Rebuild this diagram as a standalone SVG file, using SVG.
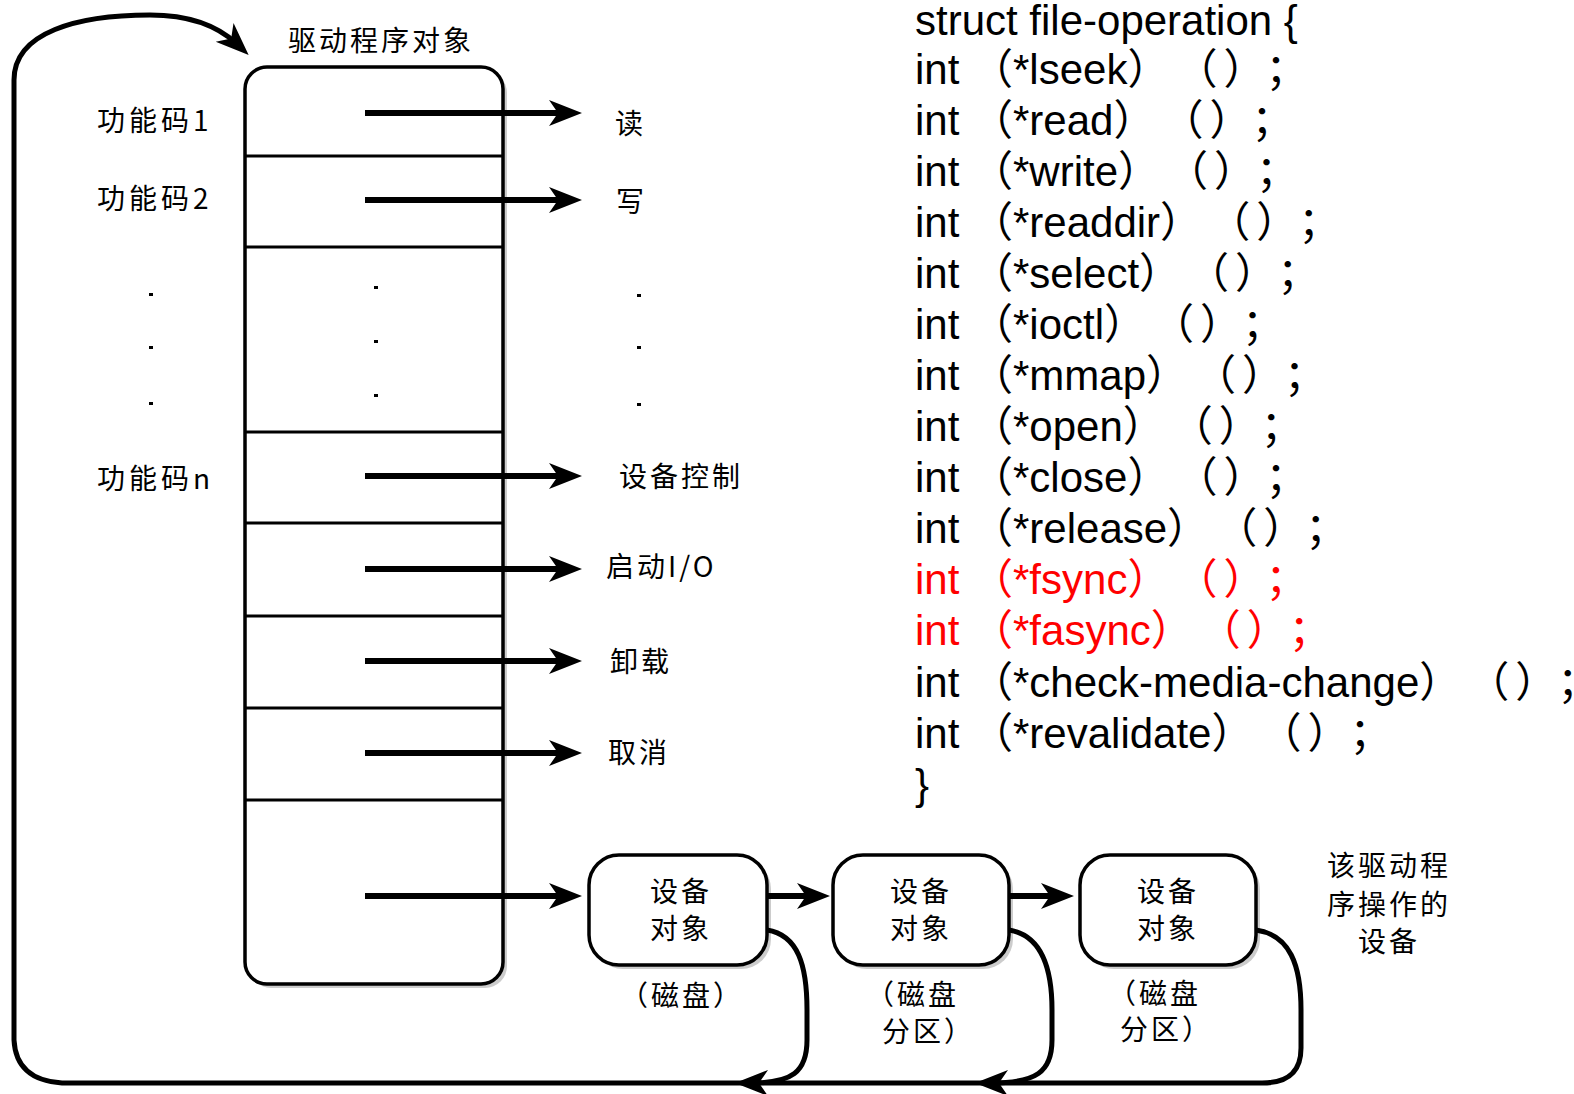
<svg xmlns="http://www.w3.org/2000/svg" width="1574" height="1094" viewBox="0 0 1574 1094">
<defs>
<style>
.cjk{font-family:"Noto Sans CJK SC","Noto Sans CJK JP",sans-serif;font-size:28px;letter-spacing:3px;fill:#000;text-spacing-trim:space-all}
.code{font-family:"Liberation Sans","Noto Sans CJK SC",sans-serif;font-size:42px;fill:#000;text-spacing-trim:space-all}
.red{fill:#ff0000}
.box{fill:#fff;stroke:#000;stroke-width:3.5}
.shadow{fill:#cccccc;stroke:none}
.div{stroke:#000;stroke-width:3}
.arr{fill:none;stroke:#000;stroke-width:6;marker-end:url(#ah)}
.loop{fill:none;stroke:#000;stroke-width:5}
.dot{fill:#000}
</style>
<marker id="ah" markerUnits="userSpaceOnUse" orient="auto" refX="0" refY="0" markerWidth="60" markerHeight="60" overflow="visible">
<path d="M16,0 L-17,-13 L-8,0 L-17,13 Z" fill="#000"/>
</marker>
</defs>
<rect width="1574" height="1094" fill="#fff"/>

<g id="driver-object">
<rect class="shadow" x="249" y="71" width="258" height="917" rx="22"/>
<rect class="box" x="245" y="67" width="258" height="917" rx="22"/>
<line class="div" x1="245" y1="156" x2="503" y2="156"/>
<line class="div" x1="245" y1="247" x2="503" y2="247"/>
<line class="div" x1="245" y1="432" x2="503" y2="432"/>
<line class="div" x1="245" y1="523" x2="503" y2="523"/>
<line class="div" x1="245" y1="616" x2="503" y2="616"/>
<line class="div" x1="245" y1="708" x2="503" y2="708"/>
<line class="div" x1="245" y1="800" x2="503" y2="800"/>
<text class="cjk" x="288" y="51">驱动程序对象</text>
</g>

<g id="function-codes">
<text class="cjk" x="97" y="131" style="letter-spacing:4px">功能码1</text>
<text class="cjk" x="97" y="209" style="letter-spacing:4px">功能码2</text>
<text class="cjk" x="97" y="489" style="letter-spacing:4px">功能码n</text>
<rect class="dot" x="149" y="293" width="4" height="3"/>
<rect class="dot" x="149" y="346" width="4" height="3"/>
<rect class="dot" x="149" y="402" width="4" height="3"/>
<rect class="dot" x="374" y="286" width="4" height="3"/>
<rect class="dot" x="374" y="340" width="4" height="3"/>
<rect class="dot" x="374" y="394" width="4" height="3"/>
<rect class="dot" x="637" y="294" width="4" height="3"/>
<rect class="dot" x="637" y="346" width="4" height="3"/>
<rect class="dot" x="637" y="403" width="4" height="3"/>
</g>

<g id="operations">
<text class="cjk" x="615" y="134">读</text>
<text class="cjk" x="616" y="212">写</text>
<text class="cjk" x="619" y="487">设备控制</text>
<text class="cjk" x="606" y="577">启动I/O</text>
<text class="cjk" x="610" y="672">卸载</text>
<text class="cjk" x="608" y="763">取消</text>
</g>

<g id="device-1">
<rect class="shadow" x="593" y="859" width="178" height="110" rx="30"/>
<rect class="box" x="589" y="855" width="178" height="110" rx="30"/>
<text class="cjk" x="681" y="902" text-anchor="middle">设备</text>
<text class="cjk" x="681" y="939" text-anchor="middle">对象</text>
<text class="cjk" x="682" y="1006" text-anchor="middle">（磁盘）</text>
</g>
<g id="device-2">
<rect class="shadow" x="837" y="859" width="176" height="110" rx="30"/>
<rect class="box" x="833" y="855" width="176" height="110" rx="30"/>
<text class="cjk" x="921" y="902" text-anchor="middle">设备</text>
<text class="cjk" x="921" y="939" text-anchor="middle">对象</text>
<text class="cjk" x="866" y="1005">（磁盘</text>
<text class="cjk" x="882" y="1042">分区）</text>
</g>
<g id="device-3">
<rect class="shadow" x="1084" y="859" width="176" height="110" rx="30"/>
<rect class="box" x="1080" y="855" width="176" height="110" rx="30"/>
<text class="cjk" x="1168" y="902" text-anchor="middle">设备</text>
<text class="cjk" x="1168" y="939" text-anchor="middle">对象</text>
<text class="cjk" x="1108" y="1004">（磁盘</text>
<text class="cjk" x="1120" y="1040">分区）</text>
</g>

<g id="device-note">
<text class="cjk" x="1389" y="876" text-anchor="middle">该驱动程</text>
<text class="cjk" x="1389" y="915" text-anchor="middle">序操作的</text>
<text class="cjk" x="1389" y="952" text-anchor="middle">设备</text>
</g>

<g id="struct-code" class="code">
<text x="915" y="35">struct file-operation {</text>
<text x="915" y="84">int （*lseek）<tspan dx="6">（</tspan><tspan dx="6">）</tspan>；</text>
<text x="915" y="135">int （*read）<tspan dx="6">（</tspan><tspan dx="6">）</tspan>；</text>
<text x="915" y="186">int （*write）<tspan dx="6">（</tspan><tspan dx="6">）</tspan>；</text>
<text x="915" y="237">int （*readdir）<tspan dx="6">（</tspan><tspan dx="6">）</tspan>；</text>
<text x="915" y="288">int （*select）<tspan dx="6">（</tspan><tspan dx="6">）</tspan>；</text>
<text x="915" y="339">int （*ioctl）<tspan dx="6">（</tspan><tspan dx="6">）</tspan>；</text>
<text x="915" y="390">int （*mmap）<tspan dx="6">（</tspan><tspan dx="6">）</tspan>；</text>
<text x="915" y="441">int （*open）<tspan dx="6">（</tspan><tspan dx="6">）</tspan>；</text>
<text x="915" y="492">int （*close）<tspan dx="6">（</tspan><tspan dx="6">）</tspan>；</text>
<text x="915" y="543">int （*release）<tspan dx="6">（</tspan><tspan dx="6">）</tspan>；</text>
<text x="915" y="594" class="red">int （*fsync）<tspan dx="6">（</tspan><tspan dx="6">）</tspan>；</text>
<text x="915" y="645" class="red">int （*fasync）<tspan dx="6">（</tspan><tspan dx="6">）</tspan>；</text>
<text x="915" y="697">int （*check-media-change）<tspan dx="6">（</tspan><tspan dx="6">）</tspan>；</text>
<text x="915" y="748">int （*revalidate）<tspan dx="6">（</tspan><tspan dx="6">）</tspan>；</text>
<text x="915" y="799">}</text>
</g>

<g id="connectors">
<line class="arr" x1="365" y1="113" x2="566" y2="113"/>
<line class="arr" x1="365" y1="200" x2="566" y2="200"/>
<line class="arr" x1="365" y1="476" x2="566" y2="476"/>
<line class="arr" x1="365" y1="569" x2="566" y2="569"/>
<line class="arr" x1="365" y1="661" x2="566" y2="661"/>
<line class="arr" x1="365" y1="753" x2="566" y2="753"/>
<line class="arr" x1="365" y1="896" x2="566" y2="896"/>
<line class="arr" x1="767" y1="896" x2="814" y2="896"/>
<line class="arr" x1="1009" y1="896" x2="1058" y2="896"/>
<path class="loop" d="M1262,1083 L62,1083 Q16,1080 14,1040 L14,80 C14,32 78,15 150,15 C192,15 220,28 237,44" marker-end="url(#ah)"/>
<path class="loop" d="M767,930 C798,935 807,965 807,1010 L807,1040 C807,1072 792,1083 751,1083" marker-end="url(#ah)"/>
<path class="loop" d="M1009,930 C1040,935 1052,965 1052,1010 L1052,1040 C1052,1072 1036,1083 991,1083" marker-end="url(#ah)"/>
<path class="loop" d="M1256,930 C1290,935 1301,965 1301,1010 L1301,1048 C1301,1070 1290,1083 1262,1083"/>
</g>
</svg>
